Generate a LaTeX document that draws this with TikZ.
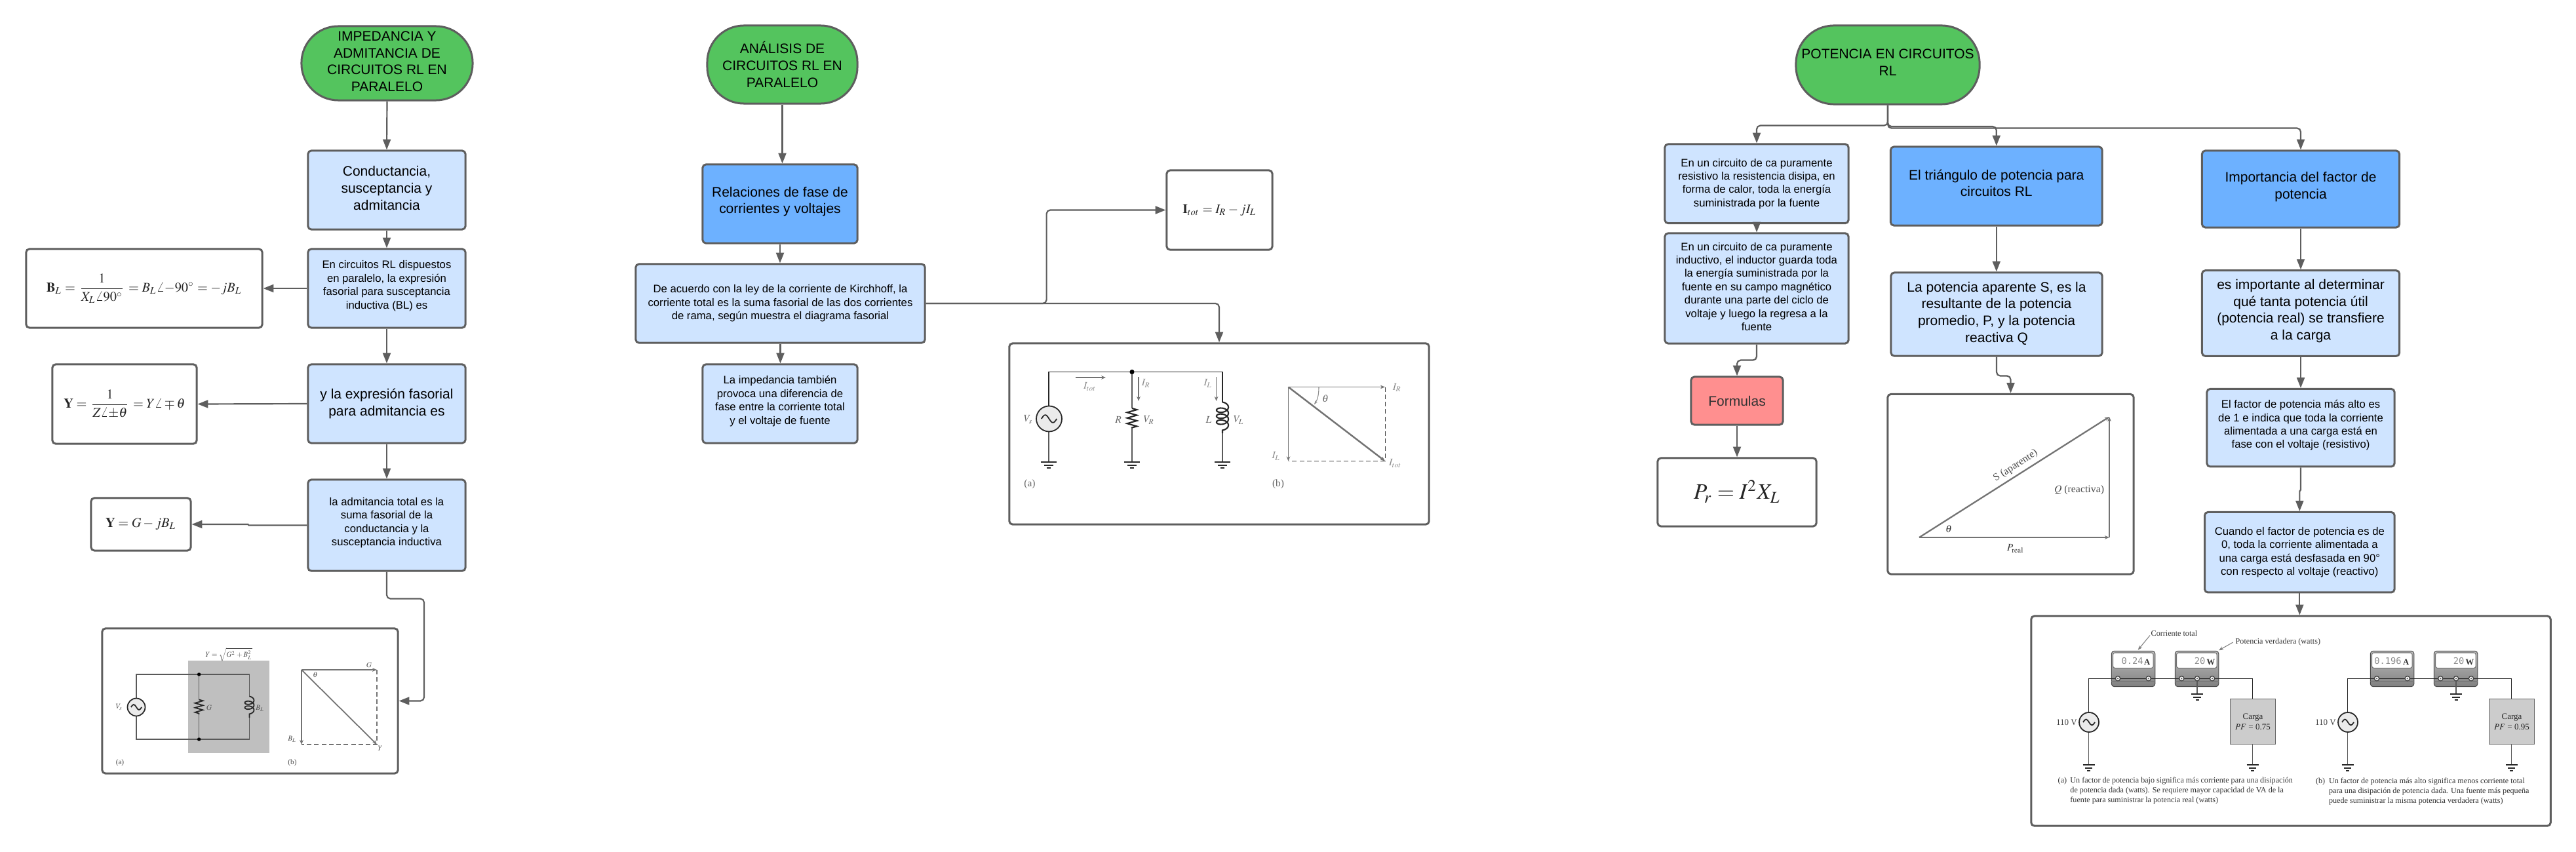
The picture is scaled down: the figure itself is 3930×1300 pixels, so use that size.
\documentclass[tikz,border=0pt]{standalone}
\usepackage{amsmath}
\usepackage{mathptmx}
\usepackage[no-math]{fontspec}
\setmainfont{Liberation Sans}
\newfontfamily\capfont{Liberation Serif}
\newfontfamily\segfont{DejaVu Sans Mono}
\usetikzlibrary{arrows.meta,decorations.pathmorphing}
\definecolor{linecolor}{HTML}{5E5E5E}
\definecolor{startcolor}{HTML}{54C45E}
\definecolor{headcolor}{HTML}{6DB1FF}
\definecolor{infocolor}{HTML}{CFE4FF}
\definecolor{formcolor}{HTML}{FF8F8F}
\newcommand{\bigtxt}{\fontsize{5.97}{7.3}\selectfont}
\newcommand{\smalltxt}{\fontsize{4.75}{5.8}\selectfont}
\newcommand{\lift}[1][3.2pt]{\rule[-#1]{0pt}{#1}}

\begin{document}
\begin{tikzpicture}[
    x=0.01cm, y=-0.01cm,
    box/.style={rectangle, draw=linecolor, line width=0.85pt, rounded corners=1.4pt, inner sep=0pt, align=center},
    titlebox/.style={box, fill=startcolor, rounded corners=0.56cm, font=\bigtxt},
    headbox/.style={box, fill=headcolor, font=\bigtxt},
    infobox/.style={box, fill=infocolor, font=\bigtxt},
    notebox/.style={box, fill=infocolor, font=\smalltxt},
    formbox/.style={box, fill=formcolor, font=\bigtxt, text=black!80},
    eqbox/.style={box, fill=white, text=black!85, font=\fontsize{5.8}{7}\selectfont},
    imgbox/.style={box, fill=white},
    conn/.style={draw=linecolor, line width=0.62pt, rounded corners=1.6pt, -{Triangle[length=4.5pt,width=3.4pt]}},
    wire/.style={draw=black!65, line width=0.3pt},
    phasor/.style={draw=black!55, line width=0.35pt, -{Stealth[length=2pt,width=1.6pt]}},
    dashline/.style={draw=black!55, line width=0.3pt, dashed, dash pattern=on 2pt off 1.2pt},
    lab/.style={inner sep=0pt, font=\capfont\fontsize{3.2}{4}\selectfont, text=black!70},
    labm/.style={inner sep=0pt, font=\capfont\fontsize{4.4}{5.2}\selectfont, text=black!60},
    captext/.style={inner sep=0pt, font=\capfont\fontsize{3.45}{4.27}\selectfont, text=black!80, align=left},
    pics/gnd/.style={code={
        \draw[line width=0.55pt, black!85] (-#1,0) -- (#1,0);
        \draw[line width=0.55pt, black!85] (-0.62*#1,5) -- (0.62*#1,5);
        \draw[line width=0.55pt, black!85] (-0.28*#1,9) -- (0.28*#1,9);
    }},
    pics/acsrc/.style={code={
        \draw[line width=0.5pt, black!85, fill=black!8] (0,0) circle [radius=#1];
        \draw[line width=0.5pt, black!85] (-0.6*#1,0) sin ++(0.3*#1,-0.3*#1) cos ++(0.3*#1,0.3*#1) sin ++(0.3*#1,0.3*#1) cos ++(0.3*#1,-0.3*#1);
    }},
]
    \useasboundingbox (0,0) rectangle (3930,1300);

    % === IMPEDANCIA Y ADMITANCIA ===
    \node[titlebox, minimum width=2.61cm, minimum height=1.13cm] (t1) at (590.5,96.5) {IMPEDANCIA Y\\ADMITANCIA DE\\CIRCUITOS RL EN\\PARALELO\lift[1.7pt]};
    \node[infobox, minimum width=2.4cm, minimum height=1.2cm] (cond) at (590,290) {Conductancia,\\susceptancia y\\admitancia\lift[1.7pt]};
    \node[notebox, minimum width=2.4cm, minimum height=1.2cm] (fas) at (590,440) {En circuitos RL dispuestos\\en paralelo, la expresión\\fasorial para susceptancia\\inductiva (BL) es\lift};
    \node[infobox, minimum width=2.4cm, minimum height=1.2cm] (expr) at (590,616) {y la expresión fasorial\\para admitancia es};
    \node[notebox, minimum width=2.4cm, minimum height=1.39cm] (adm) at (590,801.5) {la admitancia total es la\\suma fasorial de la\\conductancia y la\\susceptancia inductiva\lift};
    \node[eqbox, minimum width=3.6cm, minimum height=1.2cm] (bl) at (220,440) {\raisebox{-1.1pt}{$\mathbf{B}_L = \dfrac{1}{X_L\angle 90^\circ} = B_L\angle{-90^\circ} = -jB_L$}};
    \node[eqbox, minimum width=2.2cm, minimum height=1.21cm] (yeq) at (190,616.5) {$\mathbf{Y} = \dfrac{1}{Z\angle{\pm\theta}} = Y\angle\mp\theta$};
    \node[eqbox, minimum width=1.52cm, minimum height=0.8cm] (ygb) at (215,800) {\raisebox{1.1pt}{$\mathbf{Y} = G - jB_L$}};
    \node[imgbox, minimum width=4.51cm, minimum height=2.21cm] (img1) at (381.5,1069.5) {};

    \draw[conn] (t1.south) -- (cond.north);
    \draw[conn] (cond.south) -- (fas.north);
    \draw[conn] (fas.south) -- (expr.north);
    \draw[conn] (expr.south) -- (adm.north);
    \draw[conn] (fas.west) -- (bl.east);
    \draw[conn] (expr.west) -- (yeq.east);
    \draw[conn, sharp corners] (adm.west) -- ++(-89,0) -- ++(-1,-1.5) -- (ygb.east);
    \draw[conn] (adm.south) -- ++(0,41) -- ++(57,0) |- (img1.east);

    % circuit (a)
    \fill[black!25] (287,1008) rectangle (411,1149);
    \draw[wire] (208,1065.5) -- (208,1029) -- (380.5,1029) -- (380.5,1062.5);
    \draw[wire] (380.5,1095) -- (380.5,1128) -- (208,1128) -- (208,1092.5);
    \draw[wire] (303.6,1029) -- (303.6,1067.5);
    \draw[wire] (303.6,1090) -- (303.6,1128);
    \fill[black] (303.6,1029) circle [radius=2.7] (303.6,1128) circle [radius=2.7];
    \draw[wire, draw=black!85, line width=0.5pt, decorate, decoration={zigzag, segment length=2pt, amplitude=1.7pt}] (303.6,1067.5) -- (303.6,1090);
    \draw[wire, draw=black!85, line width=0.5pt, decorate, decoration={coil, aspect=0.6, segment length=2.1pt, amplitude=2pt}] (380.5,1062.5) -- (380.5,1095);
    \pic at (208,1079) {acsrc=13.5};
    \node[lab] (vs1) at (182,1079) {$V_s$};
    \node[lab] (gl1) at (319,1080) {$G$};
    \node[lab] (bl1) at (397,1081) {$B_L$};
    \node[lab] (ytop) at (349,999) {$Y = \sqrt{G^2 + B_L^2}$};
    \node[lab] (aa1) at (183,1164) {(a)};
    % phasors (b)
    \draw[phasor] (460,1022) -- (575,1022);
    \draw[phasor] (460,1022) -- (460,1136);
    \draw[phasor, line width=0.5pt] (460,1022) -- (575,1136);
    \draw[dashline] (575,1022) -- (575,1136) -- (460,1136);
    \node[lab] (gl2) at (563,1015) {$G$};
    \node[lab] (th1) at (481,1030) {$\theta$};
    \node[lab] (bl2) at (446,1128) {$B_L$};
    \node[lab] (yl2) at (580,1142) {$Y$};
    \node[lab] (bb1) at (446,1164) {(b)};

    % === ANALISIS ===
    \node[titlebox, minimum width=2.29cm, minimum height=1.19cm] (t2) at (1193.5,98.5) {ANÁLISIS DE\\CIRCUITOS RL EN\\PARALELO};
    \node[headbox, minimum width=2.36cm, minimum height=1.2cm] (rel) at (1190,311) {Relaciones de fase de\\corrientes y voltajes\lift};
    \node[notebox, minimum width=4.41cm, minimum height=1.2cm] (acu) at (1190.5,463) {De acuerdo con la ley de la corriente de Kirchhoff, la\\corriente total es la suma fasorial de las dos corrientes\\de rama, según muestra el diagrama fasorial};
    \node[notebox, minimum width=2.36cm, minimum height=1.2cm] (imped) at (1190,616) {La impedancia también\\provoca una diferencia de\\fase entre la corriente total\\y el voltaje de fuente\lift};
    \node[eqbox, minimum width=1.61cm, minimum height=1.21cm, font=\fontsize{5.6}{7}\selectfont] (itot) at (1860.5,320.5) {\raisebox{-1.3pt}{$\mathbf{I}_{tot} = I_R - jI_L$}};
    \node[imgbox, minimum width=6.4cm, minimum height=2.76cm] (img2) at (1860,662) {};

    \draw[conn] (t2.south) -- (t2.south |- rel.north);
    \draw[conn] (rel.south) -- (rel.south |- acu.north);
    \draw[conn] (acu.south) -- (acu.south |- imped.north);
    \draw[conn] (acu.east) -- ++(184,0) |- (itot.west);
    \draw[conn] (acu.east) -| (img2.north);

    % circuit (a)
    \draw[wire, draw=black!85, line width=0.4pt] (1600,620) -- (1600,567.5) -- (1865,567.5) -- (1865,613.5);
    \draw[wire, line width=0.4pt] (1600,658) -- (1600,704);
    \draw[wire, line width=0.4pt] (1727,567.5) -- (1727,623);
    \draw[wire, line width=0.4pt] (1727,653) -- (1727,704);
    \draw[wire, line width=0.4pt] (1865,661) -- (1865,704);
    \fill[black] (1727,567.5) circle [radius=3.6];
    \draw[wire, draw=black!85, line width=0.6pt, decorate, decoration={zigzag, segment length=2.4pt, amplitude=2.1pt}] (1727,623) -- (1727,653);
    \draw[wire, draw=black!85, line width=0.6pt, decorate, decoration={coil, aspect=0.6, segment length=2.6pt, amplitude=2.6pt}] (1865,613.5) -- (1865,661);
    \pic at (1600.5,639) {acsrc=19.5};
    \pic at (1600,705) {gnd=12};
    \pic at (1727,705) {gnd=12};
    \pic at (1865,705) {gnd=12};
    \draw[phasor] (1640.5,576) -- (1687,576);
    \draw[phasor] (1737,575) -- (1737,612);
    \draw[phasor] (1855.6,575) -- (1855.6,612);
    \node[labm, text=black!45] (itl) at (1663,590) {$I_{tot}$};
    \node[labm, text=black!45] (irl) at (1748.5,585) {$I_R$};
    \node[labm, text=black!45] (ill) at (1843,585) {$I_L$};
    \node[labm] (vsl) at (1569,640) {$V_s$};
    \node[labm] (rl) at (1706,640) {$R$};
    \node[labm] (vrl) at (1753,641) {$V_R$};
    \node[labm] (ll) at (1844,640) {$L$};
    \node[labm] (vll) at (1890,641) {$V_L$};
    \node[labm] (aa2) at (1571,739) {(a)};
    % phasors (b)
    \draw[phasor, line width=0.5pt] (1965.5,590.5) -- (2113,590.5);
    \draw[phasor, line width=0.5pt] (1965.5,590.5) -- (1965.5,703.5);
    \draw[phasor, line width=0.7pt] (1965.5,590.5) -- (2113,703.5);
    \draw[dashline, draw=black!75] (2113,590.5) -- (2113,703.5) -- (1965.5,703.5);
    \draw[draw=black!45, line width=0.3pt, -{Stealth[length=1.6pt,width=1.2pt]}] (2012,591) .. controls (2012,602) and (2010,610) .. (2005,617);
    \node[labm, text=black!45] (irb) at (2131.5,591.5) {$I_R$};
    \node[labm] (thb) at (2022,608) {$\theta$};
    \node[labm, text=black!45] (ilb) at (1947,696) {$I_L$};
    \node[labm, text=black!45] (itb) at (2129,707) {$I_{tot}$};
    \node[labm] (bb2) at (1950,739) {(b)};

    % === POTENCIA ===
    \node[titlebox, minimum width=2.8cm, minimum height=1.2cm, rounded corners=0.58cm] (t3) at (2880,99) {POTENCIA EN CIRCUITOS\\RL\lift[2.3pt]};
    \node[notebox, minimum width=2.8cm, minimum height=1.206cm] (resi) at (2680,280.3) {En un circuito de ca puramente\\resistivo la resistencia disipa, en\\forma de calor, toda la energía\\suministrada por la fuente};
    \node[notebox, minimum width=2.8cm, minimum height=1.68cm] (indu) at (2680,440) {En un circuito de ca puramente\\inductivo, el inductor guarda toda\\la energía suministrada por la\\fuente en su campo magnético\\durante una parte del ciclo de\\voltaje y luego la regresa a la\\fuente\lift[1.6pt]};
    \node[formbox, minimum width=1.4cm, minimum height=0.73cm] (form) at (2650,611.5) {Formulas};
    \node[eqbox, minimum width=2.42cm, minimum height=1.04cm, font=\fontsize{9.6}{12}\selectfont] (pr) at (2650,751) {\raisebox{2pt}{$P_r = I^2X_L$}};
    \node[headbox, minimum width=3.225cm, minimum height=1.2cm] (tri) at (3045.75,284) {El triángulo de potencia para\\circuitos RL\lift[2.6pt]};
    \node[infobox, minimum width=3.22cm, minimum height=1.27cm] (pot) at (3046,479.5) {La potencia aparente S, es la\\resultante de la potencia\\promedio, P, y la potencia\\reactiva Q\lift[2pt]};
    \node[imgbox, minimum width=3.75cm, minimum height=2.745cm] (tribox) at (3067.5,738.7) {};
    \node[headbox, minimum width=3.01cm, minimum height=1.17cm] (impf) at (3510,288.5) {Importancia del factor de\\potencia\lift};
    \node[infobox, minimum width=3.01cm, minimum height=1.305cm] (imx) at (3510,478) {es importante al determinar\\qué tanta potencia útil\\(potencia real) se transfiere\\a la carga\lift};
    \node[notebox, minimum width=2.86cm, minimum height=1.185cm] (fac) at (3510,652.7) {El factor de potencia más alto es\\de 1 e indica que toda la corriente\\alimentada a una carga está en\\fase con el voltaje (resistivo)\lift};
    \node[notebox, minimum width=2.894cm, minimum height=1.225cm] (cua) at (3508.3,842.7) {Cuando el factor de potencia es de\\0, toda la corriente alimentada a\\una carga está desfasada en 90°\\con respecto al voltaje (reactivo)};
    \node[imgbox, minimum width=7.92cm, minimum height=3.2cm] (img3) at (3495,1100) {};

    \draw[conn] (t3.south) -- ++(0,31) -| (resi.north);
    \draw[conn] (t3.south) -- ++(0,32.5) -| (tri.north);
    \draw[conn] (t3.south) -- ++(0,35) -| (impf.north);
    \draw[conn] (resi.south) -- (indu.north);
    \draw[conn] (indu.south) -- ++(0,24) -| (form.north);
    \draw[conn] (form.south) -- (pr.north);
    \draw[conn] (tri.south) -- (tri.south |- pot.north);
    \draw[conn] (pot.south) -- ++(0,29) -| (tribox.north);
    \draw[conn] (impf.south) -- (imx.north);
    \draw[conn] (imx.south) -- (imx.south |- fac.north);
    \draw[conn, sharp corners] (fac.south) -- ++(0,34) -- ++(-1.7,2) -- (cua.north);
    \draw[conn] (cua.south) -- (cua.south |- img3.north);

    % power triangle
    \draw[phasor, line width=0.5pt] (2928,820) -- (3218,820);
    \draw[phasor, line width=0.5pt] (3218,820) -- (3218,636);
    \draw[phasor, line width=0.65pt] (2928,820) -- (3218,636);
    \node[labm, text=black!80] (tht) at (2973,807) {$\theta$};
    \node[labm, rotate=33, font=\capfont\fontsize{4.5}{5.2}\selectfont, text=black!70] (sap) at (3075,710.7) {S (aparente)};
    \node[labm, font=\capfont\fontsize{4.5}{5.2}\selectfont, text=black!70] (qre) at (3172,748) {$Q$ (reactiva)};
    \node[labm, text=black!80] (pre) at (3075,837) {$P_{\mathrm{real}}$};

    % meters and loads, (a) and (b)
    \foreach \dx/\amp/\ax/\pf in {0/0.24/3253/0.75, 395/0.196/3248/0.95} {
        \begin{scope}[shift={(\dx,0)}]
            \foreach \mx/\mw in {3222/66.5, 3319/66.5} {
                \shade[top color=black!25, bottom color=black!50, draw=black!70, line width=0.3pt, rounded corners=1.2pt] (\mx-0.7,993.3) rectangle ++(\mw,54.4);
                \draw[fill=white, draw=black!55, line width=0.3pt, rounded corners=0.8pt] (\mx+1.6,996) rectangle ++(\mw-5,23.3);
                \draw[black!55, line width=0.25pt] (\mx-0.7,1039) -- ++(\mw,0);
            }
            \node[inner sep=0pt, font=\segfont\fontsize{3.9}{4.5}\selectfont, text=black!45] (seg\dx) at (\ax,1008) {\amp};
            \node[inner sep=0pt, font=\capfont\bfseries\fontsize{3.6}{4.3}\selectfont, text=black!80] (ua\dx) at (3275.7,1010) {A};
            \node[inner sep=0pt, font=\segfont\fontsize{3.9}{4.5}\selectfont, text=black!45] (sw\dx) at (3356,1008) {20};
            \node[inner sep=0pt, font=\capfont\bfseries\fontsize{3.6}{4.3}\selectfont, text=black!80] (uw\dx) at (3373,1010) {W};
            \draw[wire, draw=black!85, line width=0.4pt] (3186.7,1087) -- (3186.7,1035.3) -- (3436.7,1035.3) -- (3436.7,1066.7);
            \draw[wire, line width=0.4pt] (3186.7,1117) -- (3186.7,1166);
            \draw[wire, line width=0.4pt] (3436.7,1135.7) -- (3436.7,1166);
            \draw[wire, line width=0.4pt] (3352,1035.3) -- (3352,1058);
            \foreach \tx in {3231,3277.7,3328.3,3352,3375} {
                \draw[fill=white, draw=black!75, line width=0.35pt] (\tx,1035.3) circle [radius=3.6];
                \fill[black!60] (\tx,1035.3) circle [radius=1.3];
            }
            \pic at (3352,1059) {gnd=9};
            \pic at (3186.7,1167) {gnd=9};
            \pic at (3436.7,1167) {gnd=9};
            \pic at (3187,1102) {acsrc=15};
            \node[inner sep=0pt, font=\capfont\fontsize{3.7}{4.5}\selectfont, text=black!75] (fv\dx) at (3153,1102) {110 V};
            \node[draw=black!60, fill=black!20, line width=0.3pt, minimum width=0.694cm, minimum height=0.69cm, inner sep=0pt, align=center, font=\capfont\fontsize{3.7}{4.6}\selectfont, text=black!85] (load\dx) at (3437,1101.2) {Carga\\$PF$ = \pf};
        \end{scope}
    }
    \draw[draw=black!50, line width=0.3pt, -{Stealth[length=2pt,width=1.6pt]}] (3280,969.5) -- (3261.7,991.7);
    \draw[draw=black!50, line width=0.3pt, -{Stealth[length=2pt,width=1.6pt]}] (3406.7,980) -- (3385,992.3);
    \node[captext, anchor=west] (ctot) at (3281,966) {Corriente total};
    \node[captext, anchor=west] (pver) at (3410,980) {Potencia verdadera (watts)};
    \node[captext, anchor=north west] (capa) at (3139,1185) {(a)};
    \node[captext, anchor=north west] (capat) at (3157.7,1185) {Un factor de potencia bajo significa más corriente para una disipación\\de potencia dada (watts). Se requiere mayor capacidad de VA de la\\fuente para suministrar la potencia real (watts)};
    \node[captext, anchor=north west] (capb) at (3532.3,1186.5) {(b)};
    \node[captext, anchor=north west] (capbt) at (3552.3,1186.5) {Un factor de potencia más alto significa menos corriente total\\para una disipación de potencia dada. Una fuente más pequeña\\puede suministrar la misma potencia verdadera (watts)};
\end{tikzpicture}
\end{document}
